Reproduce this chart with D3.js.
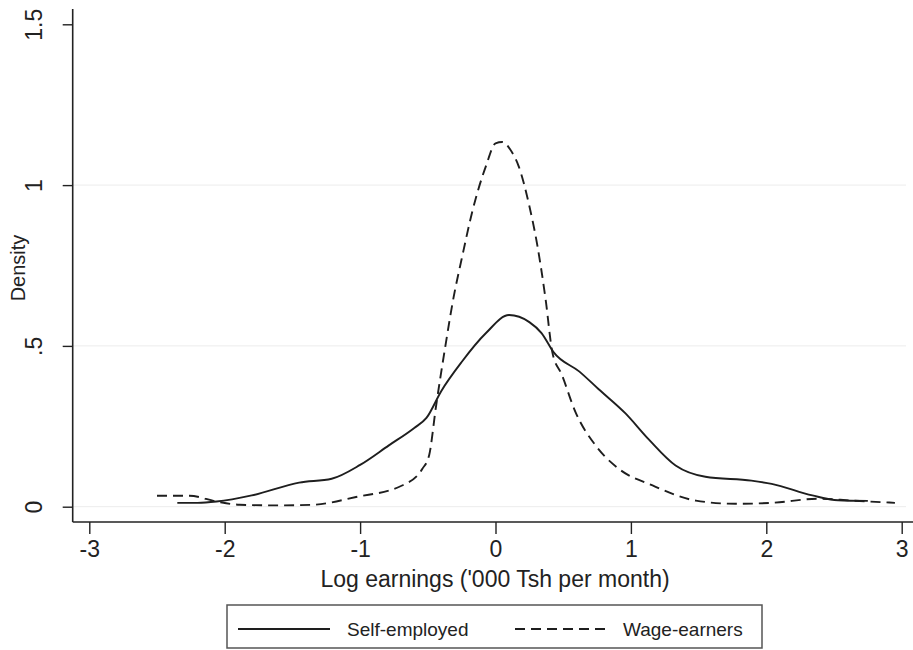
<!DOCTYPE html>
<html>
<head>
<meta charset="utf-8">
<script src="https://cdn.jsdelivr.net/npm/d3@7"></script>
<style>
  body { margin: 0; background: #fff; }
  text { font-family: "Liberation Sans", Arial, sans-serif; fill: #222; }
</style>
</head>
<body>
<div id="chart"></div>
<script>
// log earnings grid and kernel density estimates
const selfX = [-2.35, -2.2, -2.06, -1.8, -1.45, -1.21, -1.0, -0.79, -0.6, -0.51, -0.40, -0.25, -0.07, 0.1, 0.25, 0.34, 0.43, 0.62, 0.76, 0.96, 1.13, 1.33, 1.55, 1.89, 2.04, 2.34, 2.53, 2.75];
const selfY = [0.012, 0.012, 0.016, 0.035, 0.075, 0.087, 0.13, 0.19, 0.245, 0.276, 0.36, 0.45, 0.54, 0.596, 0.574, 0.54, 0.48, 0.42, 0.366, 0.29, 0.21, 0.128, 0.093, 0.081, 0.071, 0.035, 0.02, 0.018];

const wageX = [-2.5, -2.26, -2.06, -1.89, -1.6, -1.35, -1.03, -0.69, -0.54, -0.49, -0.44, -0.37, -0.31, -0.25, -0.17, -0.07, 0.0, 0.05, 0.11, 0.17, 0.25, 0.31, 0.37, 0.42, 0.49, 0.59, 0.74, 0.91, 1.16, 1.48, 1.77, 2.04, 2.39, 2.63, 2.95];
const wageY = [0.034, 0.034, 0.016, 0.006, 0.004, 0.006, 0.03, 0.066, 0.118, 0.16, 0.31, 0.50, 0.65, 0.77, 0.92, 1.06, 1.13, 1.134, 1.11, 1.06, 0.935, 0.81, 0.645, 0.48, 0.41, 0.295, 0.19, 0.118, 0.066, 0.019, 0.009, 0.012, 0.025, 0.019, 0.012];

const xTicks = [-3, -2, -1, 0, 1, 2, 3];
const yTicks = [0, 0.5, 1, 1.5];
const yTickLabels = ["0", ".5", "1", "1.5"];
const seriesNames = ["Self-employed", "Wage-earners"];

const width = 913, height = 650;
const axisX = 72.7, axisY = 522;

const svg = d3.select("#chart").append("svg")
    .attr("width", width)
    .attr("height", height);

const x = d3.scaleLinear().domain([-3, 3]).range([89.3, 901.7]);
const y = d3.scaleLinear().domain([0, 1.5]).range([506.7, 24.3]);

// faint gridlines
svg.append("g").selectAll("line")
    .data(yTicks.filter(d => d < 1.5))
    .enter().append("line")
    .attr("x1", axisX).attr("x2", 906)
    .attr("y1", d => y(d)).attr("y2", d => y(d))
    .attr("stroke", "#ececec").attr("stroke-width", 1);

// axis lines
svg.append("line").attr("x1", axisX).attr("x2", axisX).attr("y1", 9).attr("y2", axisY)
    .attr("stroke", "#222").attr("stroke-width", 1.6);
svg.append("line").attr("x1", axisX).attr("x2", width).attr("y1", axisY).attr("y2", axisY)
    .attr("stroke", "#222").attr("stroke-width", 1.6);

// x axis (plain hyphen for negatives, like the original)
const gx = svg.append("g")
    .attr("transform", "translate(0," + axisY + ")")
    .call(d3.axisBottom(x).tickValues(xTicks).tickSize(12).tickPadding(7).tickFormat(d => String(d)));
gx.select(".domain").remove();
gx.selectAll("line").attr("stroke", "#222").attr("stroke-width", 1.4);
gx.selectAll("text").style("font-size", "23px").style("font-family", "Liberation Sans, Arial, sans-serif").attr("fill", "#222");

// y axis with rotated labels
const gy = svg.append("g")
    .attr("transform", "translate(" + axisX + ",0)")
    .call(d3.axisLeft(y).tickValues(yTicks).tickSize(10).tickFormat((d, i) => yTickLabels[i]));
gy.select(".domain").remove();
gy.selectAll("line").attr("stroke", "#222").attr("stroke-width", 1.4);
gy.selectAll("text")
    .attr("transform", "rotate(-90)")
    .attr("x", 0).attr("y", -31).attr("dy", 0)
    .attr("text-anchor", "middle")
    .style("font-size", "23px").style("font-family", "Liberation Sans, Arial, sans-serif").attr("fill", "#222");

// axis titles
svg.append("text")
    .attr("x", 495).attr("y", 587)
    .attr("text-anchor", "middle")
    .style("font-size", "23px")
    .text("Log earnings ('000 Tsh per month)");

svg.append("text")
    .attr("transform", "translate(25,268) rotate(-90)")
    .attr("text-anchor", "middle")
    .style("font-size", "20px")
    .text("Density");

// density lines
const line = d3.line()
    .x(d => x(d[0]))
    .y(d => y(d[1]))
    .curve(d3.curveMonotoneX);

const selfData = selfX.map((v, i) => [v, selfY[i]]);
const wageData = wageX.map((v, i) => [v, wageY[i]]);

svg.append("path").datum(selfData)
    .attr("fill", "none").attr("stroke", "#1e1e1e").attr("stroke-width", 1.9)
    .attr("d", line);

svg.append("path").datum(wageData)
    .attr("fill", "none").attr("stroke", "#1e1e1e").attr("stroke-width", 1.9)
    .attr("stroke-dasharray", "10,6")
    .attr("d", line);

// legend
const legend = svg.append("g");
legend.append("rect")
    .attr("x", 227).attr("y", 605).attr("width", 535).attr("height", 43)
    .attr("fill", "#fff").attr("stroke", "#555").attr("stroke-width", 1.5);

const legendItems = [
  { name: seriesNames[0], x0: 238, x1: 330, tx: 347, dash: null },
  { name: seriesNames[1], x0: 515, x1: 608, tx: 623, dash: "10,6" }
];
legendItems.forEach(it => {
  legend.append("line")
    .attr("x1", it.x0).attr("x2", it.x1).attr("y1", 629).attr("y2", 629)
    .attr("stroke", "#1e1e1e").attr("stroke-width", 1.9)
    .attr("stroke-dasharray", it.dash);
  legend.append("text")
    .attr("x", it.tx).attr("y", 636)
    .style("font-size", "19px")
    .text(it.name);
});
</script>
</body>
</html>
